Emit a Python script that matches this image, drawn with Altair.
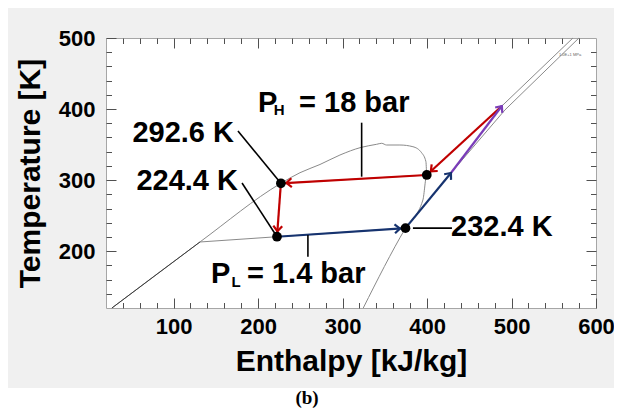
import math
import altair as alt
import pandas as pd

# ---------------- data ----------------
H_DOMAIN = [20, 600]          # enthalpy axis [kJ/kg]
T_DOMAIN = [120, 500]         # temperature axis [K]
X_LABELS = [100, 200, 300, 400, 500, 600]
Y_LABELS = [200, 300, 400, 500]
X_MAJOR = [100, 200, 300, 400, 500]
X_MINOR = [40, 60, 80, 120, 140, 160, 180, 220, 240, 260, 280, 320, 340, 360, 380,
           420, 440, 460, 480, 520, 540, 560, 580]
Y_MAJOR = [200, 300, 400]
Y_MINOR = [140, 160, 180, 220, 240, 260, 280, 320, 340, 360, 380, 420, 440, 460, 480]

# saturation dome
dome_h = [27, 131.2, 227, 249.6, 273.3, 296.9, 321.8, 340.4, 346.3, 352.1, 367.9,
          383.3, 393.6, 398.7, 399.7, 395.1, 374.5, 324.5]
dome_T = [120, 212.9, 295.5, 310.4, 322.0, 335.3, 346.0, 350.4, 351.8, 349.4, 349.4,
          347, 338.5, 325.9, 307.2, 272, 232.4, 120]
sub_h = [27, 131.2]
sub_T = [120, 212.9]
lp_h = [131.2, 222.4, 374.5, 428.3, 492.2, 579.8]
lp_T = [212.9, 220.3, 232.4, 310, 398.7, 500]
hp_h = [227, 399.7, 488.6, 572.7]
hp_T = [295.5, 307.2, 404.3, 500]

state_h = [227, 222.4, 374.5, 399.7]
state_T = [295.5, 220.3, 232.4, 307.2]

seg_h1 = [488.6, 399.7, 227, 222.4, 374.5, 428.3]
seg_T1 = [404.3, 307.2, 295.5, 220.3, 232.4, 310]
seg_h2 = [399.7, 227, 222.4, 374.5, 428.3, 488.6]
seg_T2 = [307.2, 295.5, 220.3, 232.4, 310, 404.3]
seg_kind = ["red", "red", "red", "blue", "blue", "purple"]
seg_to_dot = [True, True, True, True, False, False]

lead_h1 = [176.2, 181, 322.6, 259, 383.3]
lead_T1 = [369, 296, 380.8, 222.7, 232.4]
lead_h2 = [227, 222.4, 322.6, 259, 429.5]
lead_T2 = [295.5, 220.3, 304.8, 192.2, 232.4]

right_txt = ["292.6 K", "224.4 K"]
right_h = [171.5, 176.2]
right_T = [353.6, 286.1]
left_txt = ["232.4 K", "P", "= 18 bar", "P", "= 1.4 bar"]
left_h = [428.4, 199.9, 248.5, 144.3, 186.9]
left_T = [221.3, 395.8, 395.8, 155.2, 155.2]
sub_txt = ["H", "L"]
sub_txt_h = [218.5, 168.5]
sub_txt_T = [391.6, 149.5]
tiny_txt = ["1.0E+1 MPa"]
tiny_h = [556.2]
tiny_T = [476]

# ---------------- styling ----------------
W, H = 490, 270
FONT = "Liberation Sans"
COLORS = {"red": "#c00000", "blue": "#16336f", "purple": "#7a3db8"}
TICK = "#505050"

xs = alt.Scale(domain=H_DOMAIN, nice=False, zero=False)
ys = alt.Scale(domain=T_DOMAIN, nice=False, zero=False)
SX = W / (H_DOMAIN[1] - H_DOMAIN[0])
SY = H / (T_DOMAIN[1] - T_DOMAIN[0])

MAJ = {"expr": "-10"}    # inward ticks
MIN = {"expr": "-5.5"}

x_lab = alt.Axis(orient="bottom", values=X_LABELS, title="Enthalpy [kJ/kg]", format="d",
                 labelFont=FONT, labelFontSize=22, labelFontWeight="bold",
                 labelColor="black", labelPadding=18, labelFlush=False,
                 labelOverlap=False, ticks=True, tickSize=MAJ, tickColor=TICK,
                 tickWidth=1, domain=False, grid=False, zindex=1,
                 titleFont=FONT, titleFontSize=30, titleFontWeight="bold",
                 titleColor="black", titlePadding=9)
y_lab = alt.Axis(orient="left", values=Y_LABELS, title="Temperature [K]", format="d",
                 labelFont=FONT, labelFontSize=22, labelFontWeight="bold",
                 labelColor="black", labelPadding=21, labelOverlap=False,
                 ticks=True, tickSize=MAJ, tickColor=TICK, tickWidth=1,
                 domain=False, grid=False, zindex=1,
                 titleFont=FONT, titleFontSize=30, titleFontWeight="bold",
                 titleColor="black", titlePadding=13)


def tick_axis(orient, vals, size):
    return alt.Axis(orient=orient, values=vals, labels=False, title=None, ticks=True,
                    tickSize=size, tickColor=TICK, tickWidth=1, domain=False,
                    grid=False, zindex=1)


x_bmin = tick_axis("bottom", X_MINOR, MIN)
x_tmaj = tick_axis("top", X_MAJOR, MAJ)
x_tmin = tick_axis("top", X_MINOR, MIN)
y_lmin = tick_axis("left", Y_MINOR, MIN)
y_rmaj = tick_axis("right", Y_MAJOR, MAJ)
y_rmin = tick_axis("right", Y_MINOR, MIN)


def X(f, ax=None):
    return alt.X(f, type="quantitative", scale=xs, axis=ax)


def Y(f, ax=None):
    return alt.Y(f, type="quantitative", scale=ys, axis=ax)


def line_df(hs, ts, name):
    return pd.DataFrame({"h": hs, "T": ts, "name": name, "o": list(range(len(hs)))})


dome_df = line_df(dome_h, dome_T, "dome")
sub_df = line_df(sub_h, sub_T, "sub")
lp_df = line_df(lp_h, lp_T, "lp")
hp_df = line_df(hp_h, hp_T, "hp")

seg_df = pd.DataFrame({"h1": seg_h1, "T1": seg_T1, "h2": seg_h2, "T2": seg_T2,
                       "c": [COLORS[k] for k in seg_kind]})

heads = []
for h1, t1, h2, t2, k, dot in zip(seg_h1, seg_T1, seg_h2, seg_T2, seg_kind, seg_to_dot):
    dx = (h2 - h1) * SX
    dy = -(t2 - t1) * SY
    dist = math.hypot(dx, dy)
    ux, uy = dx / dist, dy / dist
    back = 5.5 if dot else 0.0
    heads.append({"h": h2 - ux * back / SX, "T": t2 + uy * back / SY,
                  "ang": math.degrees(math.atan2(dy, dx)) % 360, "c": COLORS[k]})
head_df = pd.DataFrame(heads)

state_df = pd.DataFrame({"h": state_h, "T": state_T})
lead_df = pd.DataFrame({"h1": lead_h1, "T1": lead_T1, "h2": lead_h2, "T2": lead_T2})

# ---------------- layers (four of them carry the axes) ----------------
dome = alt.Chart(dome_df).mark_line(color="#8a8a8a", strokeWidth=1,
                                    interpolate="monotone").encode(
    x=X("h", x_lab), y=Y("T", y_lab), order="o:Q")
lp = alt.Chart(lp_df).mark_line(color="#8a8a8a", strokeWidth=1).encode(
    x=X("h", x_bmin), y=Y("T", y_lmin), order="o:Q")
hp = alt.Chart(hp_df).mark_line(color="#8a8a8a", strokeWidth=1).encode(
    x=X("h", x_tmaj), y=Y("T", y_rmaj), order="o:Q")
sub = alt.Chart(sub_df).mark_line(color="#3a3a3a", strokeWidth=1).encode(
    x=X("h", x_tmin), y=Y("T", y_rmin), order="o:Q")

segs = alt.Chart(seg_df).mark_rule(strokeWidth=2.2).encode(
    x=X("h1"), y=Y("T1"), x2="h2", y2="T2", color=alt.Color("c:N", scale=None))
heads_l = alt.Chart(head_df).mark_point(
    shape="M -1 -0.85 L 0 0 L -1 0.85", filled=False, size=110, strokeWidth=2.2,
    opacity=1).encode(
    x=X("h"), y=Y("T"), angle=alt.Angle("ang:Q", scale=None),
    color=alt.Color("c:N", scale=None))

leads = alt.Chart(lead_df).mark_rule(color="black", strokeWidth=1.6).encode(
    x=X("h1"), y=Y("T1"), x2="h2", y2="T2")

dots = alt.Chart(state_df).mark_circle(color="black", size=95, opacity=1).encode(
    x=X("h"), y=Y("T"))

t_right = alt.Chart(pd.DataFrame({"t": right_txt, "h": right_h, "T": right_T})).mark_text(
    font=FONT, fontSize=29, fontWeight="bold", color="black", align="right",
    baseline="alphabetic").encode(x=X("h"), y=Y("T"), text="t:N")
t_left = alt.Chart(pd.DataFrame({"t": left_txt, "h": left_h, "T": left_T})).mark_text(
    font=FONT, fontSize=29, fontWeight="bold", color="black", align="left",
    baseline="alphabetic").encode(x=X("h"), y=Y("T"), text="t:N")
t_sub = alt.Chart(pd.DataFrame({"t": sub_txt, "h": sub_txt_h, "T": sub_txt_T})).mark_text(
    font=FONT, fontSize=15, fontWeight="bold", color="black", align="left",
    baseline="alphabetic").encode(x=X("h"), y=Y("T"), text="t:N")
t_tiny = alt.Chart(pd.DataFrame({"t": tiny_txt, "h": tiny_h, "T": tiny_T})).mark_text(
    font=FONT, fontSize=4, color="#666666", align="left",
    baseline="middle").encode(x=X("h"), y=Y("T"), text="t:N")

strip = alt.Chart(pd.DataFrame({"a": [0]})).mark_rect(color="white").encode(
    x=alt.value(-98), x2=alt.value(510), y=alt.value(350), y2=alt.value(372))

label_b = alt.Chart(pd.DataFrame({"t": ["(b)"]})).mark_text(
    font="Liberation Serif", fontSize=19, fontWeight="bold", color="black",
    align="center", baseline="alphabetic").encode(
    x=alt.value(201), y=alt.value(366), text="t:N")

chart = alt.layer(
    dome, lp, hp, sub, segs, heads_l, leads, dots,
    t_right, t_left, t_sub, t_tiny, strip, label_b
).resolve_axis(
    x="independent", y="independent"
).properties(
    width=W, height=H, autosize="none", background="#f0f0f0",
    padding={"left": 98, "top": 30, "right": 18, "bottom": 100}
).configure_view(fill="white", stroke="#a6a6a6", strokeWidth=1)

chart.save("out.html", embed_options={"renderer": "svg", "actions": False})
